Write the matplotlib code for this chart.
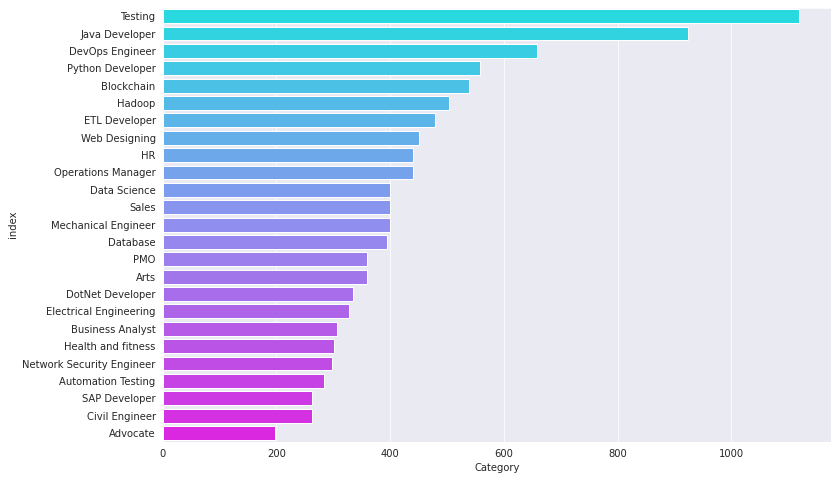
import numpy as np
import matplotlib
matplotlib.use("Agg")
import matplotlib.pyplot as plt
import seaborn as sns

# categorias y conteos
categorias = ["Testing", "Java Developer", "DevOps Engineer", "Python Developer",
              "Blockchain", "Hadoop", "ETL Developer", "Web Designing", "HR",
              "Operations Manager", "Data Science", "Sales", "Mechanical Engineer",
              "Database", "PMO", "Arts", "DotNet Developer", "Electrical Engineering",
              "Business Analyst", "Health and fitness", "Network Security Engineer",
              "Automation Testing", "SAP Developer", "Civil Engineer", "Advocate"]
conteos = [1119, 924, 658, 558, 539, 504, 479, 450, 440, 440, 400, 400, 400,
           395, 359, 359, 335, 328, 307, 301, 298, 284, 263, 263, 198]

sns.set_style("darkgrid")
plt.rcParams["font.family"] = ["DejaVu Sans"]
plt.rcParams["font.size"] = 10

fig = plt.figure(figsize=(838 / 72, 480 / 72), dpi=72)
ax = fig.add_axes([162.7 / 838, 1 - 441.7 / 480, (831 - 162.7) / 838, (441.7 - 7.5) / 480])

sns.barplot(x=conteos, y=categorias, hue=categorias, palette="cool",
            legend=False, ax=ax, edgecolor="white", linewidth=1)
ax.set_xlabel("Category")
ax.set_ylabel("index")

fig.savefig("out.png", dpi=72)
